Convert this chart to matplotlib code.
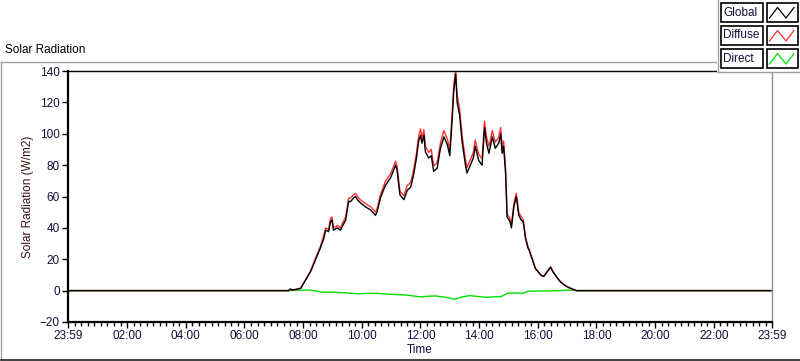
import numpy as np
import matplotlib
matplotlib.use("Agg")
import matplotlib.pyplot as plt
from matplotlib.patches import Rectangle
from matplotlib.lines import Line2D

W, H = 800, 361

# --- data (times as HH:MM, values in W/m2) ---
times = ["00:00", "07:30", "07:34", "07:38", "07:55",
         "08:05", "08:15", "08:25", "08:35", "08:42", "08:46", "08:52", "08:56", "08:59",
         "09:02", "09:10", "09:16", "09:22", "09:27", "09:30", "09:33", "09:37", "09:43", "09:47", "09:51", "09:57",
         "10:07", "10:18", "10:28", "10:31", "10:38", "10:48", "10:59",
         "11:09", "11:12", "11:18", "11:26", "11:33", "11:40", "11:46", "11:52", "11:56",
         "12:00", "12:03", "12:07", "12:10", "12:17", "12:22", "12:27", "12:34", "12:41", "12:48", "12:55",
         "13:00", "13:05", "13:08", "13:12", "13:15", "13:20", "13:25", "13:32", "13:35", "13:42", "13:48", "13:52", "13:59",
         "14:06", "14:11", "14:15", "14:20", "14:27", "14:33", "14:40", "14:44", "14:47", "14:50", "14:54", "14:56", "14:57",
         "15:03", "15:06", "15:11", "15:16", "15:21", "15:26", "15:30", "15:35", "15:40", "15:42", "15:49", "15:55",
         "16:06", "16:12", "16:19", "16:26", "16:31", "16:40", "16:46", "16:57",
         "17:07", "17:13", "17:19", "23:59"]

global_rad = [0, 0, 1.0, 0.3, 1.5,
              6.8, 12, 19.5, 27, 33, 38.6, 37.6, 44, 45,
              38.6, 40, 38.6, 42, 45, 51, 57, 56.7, 59, 60, 58, 56,
              53.5, 51.4, 48, 50, 59, 67, 72,
              80, 77, 61, 58, 64, 66, 74, 85, 95,
              99, 94, 99, 88.5, 84.5, 86, 76, 78, 91, 98, 93,
              86, 110, 127, 138, 120, 112, 95, 80, 75, 80, 84.5, 92, 83,
              80, 104, 94, 87.5, 98, 90.7, 94, 100, 87.5, 92, 75, 58, 47,
              44, 40, 53.5, 60, 48, 45, 44, 33, 27, 26, 19.5, 14,
              10, 9, 12, 15, 12, 8, 5.7, 3,
              1.5, 0.8, 0, 0]

diffuse_rad = [0, 0, 1.0, 0.3, 1.5,
               6.8, 12.5, 20.5, 28, 35, 40, 39, 46, 47,
               40, 41.5, 40, 44, 47, 53, 59, 59, 61, 62, 60, 58,
               55.5, 53.5, 50, 52, 61, 69.5, 74.5,
               82.5, 79.5, 63.5, 60.5, 67, 69, 77, 88, 98,
               103, 97.5, 102.5, 92, 88, 90, 79.5, 81.5, 94.5, 102, 96.5,
               90, 114, 131, 141, 124.5, 116, 99, 83.5, 78.5, 83.5, 88, 96, 87,
               84, 108, 98, 92, 102, 94.5, 98, 104, 91, 95.5, 78, 60, 49,
               46, 42, 55.5, 62, 50, 47, 45.5, 34, 28, 26.5, 20, 14.5,
               10, 9, 12, 15, 12, 8, 5.7, 3,
               1.2, 0.5, 0, 0]

direct_times = ["00:00", "07:30", "07:55", "08:15", "08:40", "09:00", "09:20", "09:50", "10:10",
                "10:30", "10:50", "11:10", "11:30", "12:00", "12:15", "12:30", "12:50", "13:10",
                "13:25", "13:40", "14:00", "14:15", "14:30", "14:45", "14:58", "15:15", "15:30",
                "15:40", "16:10", "16:45", "17:05", "17:20", "23:59"]
direct_rad = [0, 0, 0.3, 0.4, -1, -1, -1.3, -2, -1.8,
              -1.7, -2.2, -2.5, -2.8, -4, -3.6, -3.4, -4.2, -5.5,
              -4, -3.2, -3.8, -4.3, -4, -3.8, -1.7, -1.5, -1.7,
              -0.4, -0.2, 0, 0.4, 0, 0]

tick_times = ["23:59", "02:00", "04:00", "06:00", "08:00", "10:00", "12:00",
              "14:00", "16:00", "18:00", "20:00", "22:00", "23:59"]
y_ticks = [-20, 0, 20, 40, 60, 80, 100, 120, 140]


def to_min(s):
    h, m = s.split(":")
    return int(h) * 60 + int(m)


t_main = np.array([to_min(s) for s in times])
t_dir = np.array([to_min(s) for s in direct_times])
tick_pos = [to_min(s) for s in tick_times]
tick_pos[0] = -1  # 23:59 of the previous day

plt.rcParams['font.family'] = ['Liberation Sans', 'DejaVu Sans']
FS = 8.5
TXT = '#10103a'

fig = plt.figure(figsize=(8, 3.61), dpi=100)
fig.patch.set_facecolor('white')

ax = fig.add_axes([68 / W, 1 - 322 / H, (772 - 68) / W, (322 - 71) / H])
ax.plot(t_dir, direct_rad, color='#00e000', lw=1.0)
ax.plot(t_main, diffuse_rad, color='#ff3030', lw=1.0)
ax.plot(t_main, global_rad, color='black', lw=1.0)

ax.set_xlim(-1, 1439)
ax.set_ylim(-20, 140)
ax.set_yticks(y_ticks)
ax.set_xticks(tick_pos)
ax.set_xticklabels(tick_times)
minor = []
for a, b in zip(tick_pos[:-1], tick_pos[1:]):
    minor.extend(np.linspace(a, b, 10)[1:-1])
ax.set_xticks(minor, minor=True)
ax.tick_params(axis='both', which='major', direction='out', length=4, width=1,
               labelsize=FS, colors='black', pad=2)
ax.tick_params(axis='x', which='minor', direction='out', length=3, width=1)
for lab in ax.get_xticklabels() + ax.get_yticklabels():
    lab.set_color(TXT)

ax.spines['left'].set_linewidth(1.6)
ax.spines['bottom'].set_linewidth(1.6)
ax.spines['top'].set_linewidth(1.0)
ax.spines['right'].set_color('#909090')
ax.spines['right'].set_linewidth(1.0)

ax.set_xlabel("Time", fontsize=FS, color=TXT, labelpad=1)
ax.set_ylabel("Solar Radiation (W/m2)", fontsize=FS, color='#3a1410', labelpad=4)


def fx(x):
    return x / W


def fy(y):
    return 1 - y / H


# panel frame
fig.add_artist(Line2D([fx(0.5), fx(717)], [fy(62), fy(62)], color='#a0a0a0', lw=1))
fig.add_artist(Line2D([fx(0.5), fx(0.5)], [fy(62), fy(359)], color='#a0a0a0', lw=1))
fig.add_artist(Line2D([fx(0.5), fx(800)], [fy(359.5), fy(359.5)], color='#202020', lw=1.2))
fig.text(fx(5), fy(50), "Solar Radiation", fontsize=FS, color='black', va='center', ha='left')

# legend
fig.add_artist(Rectangle((fx(717), fy(72)), fx(83), 72 / H, facecolor='white',
                         edgecolor='none', zorder=5))
fig.add_artist(Line2D([fx(717.5), fx(717.5)], [fy(0), fy(72)], color='#a0a0a0', lw=1, zorder=6))
fig.add_artist(Line2D([fx(717.5), fx(800)], [fy(71.5), fy(71.5)], color='#a0a0a0', lw=1, zorder=6))
leg_names = ["Global", "Diffuse", "Direct"]
leg_colors = ['black', '#ff3030', '#00e000']
for i, (name, col) in enumerate(zip(leg_names, leg_colors)):
    top = 3 + i * 23
    fig.add_artist(Rectangle((fx(721), fy(top + 19)), fx(42), 19 / H, facecolor='white',
                             edgecolor='black', lw=1.2, zorder=7))
    fig.text(fx(723.5), fy(top + 9.5), name, fontsize=FS, color=TXT, va='center',
             ha='left', zorder=8)
    fig.add_artist(Rectangle((fx(767), fy(top + 19)), fx(31), 19 / H, facecolor='white',
                             edgecolor='black', lw=1.2, zorder=7))
    zx = [769.5, 777.5, 786, 794]
    zy = [top + 15, top + 4.5, top + 15, top + 4.5]
    fig.add_artist(Line2D([fx(v) for v in zx], [fy(v) for v in zy], color=col, lw=0.9, zorder=8))

fig.savefig("out.png", dpi=100)
